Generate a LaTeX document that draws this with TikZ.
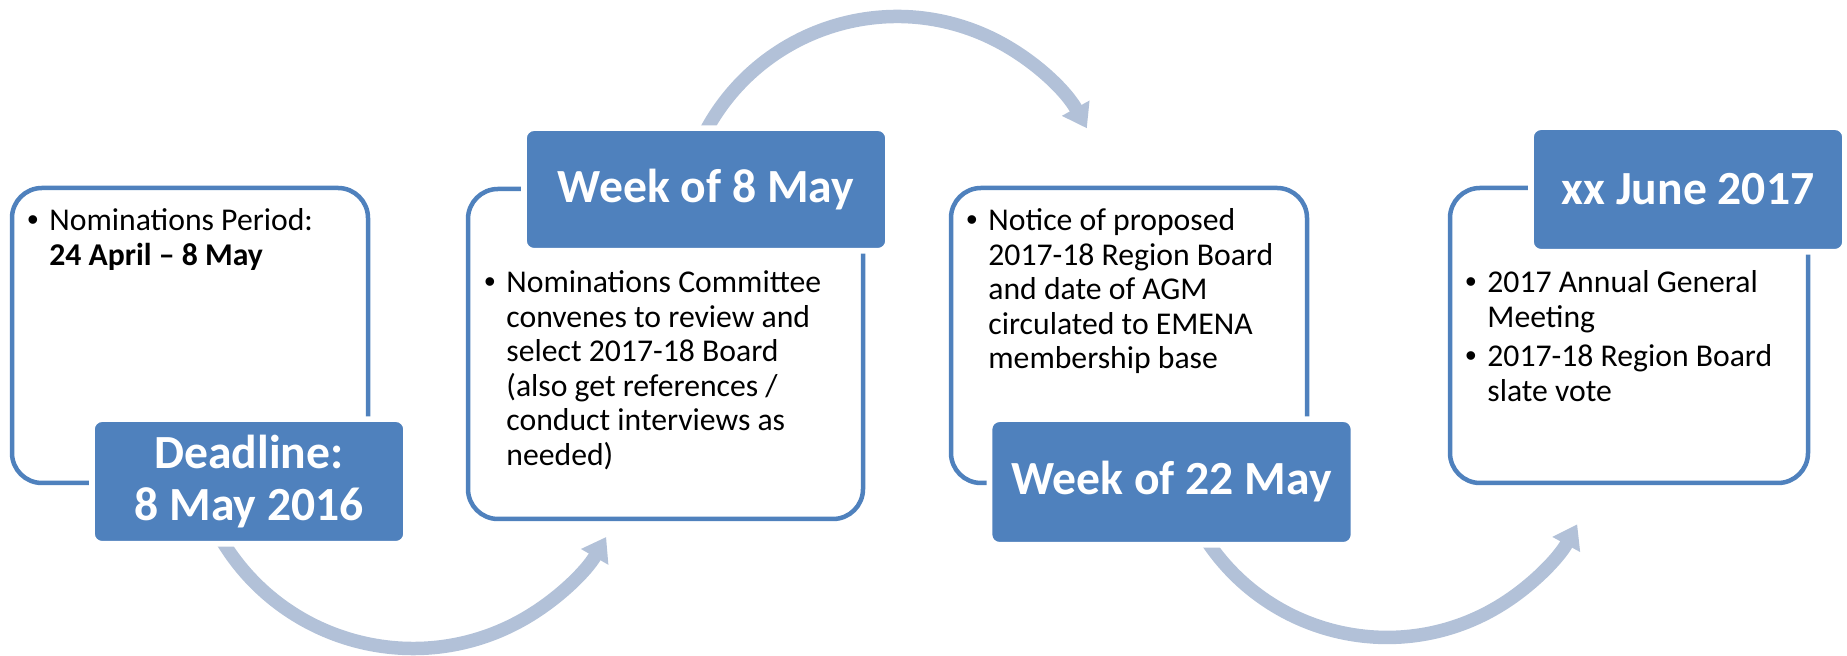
\documentclass[tikz,border=0pt]{standalone}
\usepackage{fontspec}
\setmainfont{Carlito}
\newfontfamily\bulletfont{Liberation Sans}
\usetikzlibrary{
	arrows.meta,
	positioning
}
\definecolor{accent}{RGB}{79,129,189}
\definecolor{flowgray}{RGB}{178,193,216}
\newcommand{\itm}[1]{\makebox[11pt][l]{\bulletfont\textbullet}\begin{tabular}[t]{@{}l@{}}#1\end{tabular}}

\begin{document}
\begin{tikzpicture}
[x=.5pt, y=.5pt,
 panel/.style={draw=accent, line width=2.25pt, fill=white, rounded corners=15pt, inner sep=0pt},
 datebox/.style={fill=accent, draw=white, line width=2.8pt, rounded corners=5pt, inner sep=0pt,
   text=white, align=center, font=\fontsize{23.8}{26}\selectfont\bfseries},
 body/.style={anchor=base west, inner sep=0pt, font=\fontsize{15.85}{17.25}\selectfont},
 flow/.style={draw=flowgray, line width=6.75pt, -{Triangle[length=11.5pt,width=15pt]}}]
\useasboundingbox (0,0) rectangle (1847,656);
\coordinate (s1) at (219.9,119);
\coordinate (s2) at (703.7,521);
\coordinate (s3) at (1203.5,120.3);
\draw[flow] (s1) arc[start angle=210, end angle=330, radius=223];
\draw[flow] (s2) arc[start angle=153, end angle=29, radius=217];
\draw[flow] (s3) arc[start angle=212, end angle=331.5, radius=216.4];
\node[panel, minimum width=178pt, minimum height=147.5pt] (p1) at (190,320.5) {};
\node[panel, minimum width=197.5pt, minimum height=165pt] (p2) at (665.5,302) {};
\node[panel, minimum width=178pt, minimum height=147.5pt] (p3) at (1129,320.5) {};
\node[panel, minimum width=179pt, minimum height=147.5pt] (p4) at (1629,320.5) {};
\node[datebox, minimum width=157pt, minimum height=62.3pt] (d1) at (249,174.5) {Deadline:\\8 May 2016};
\node[datebox, minimum width=182pt, minimum height=61.3pt] (d2) at (706,466.5) {Week of 8 May};
\node[datebox, minimum width=182pt, minimum height=62.8pt] (d3) at (1171.5,174) {Week of 22 May};
\node[datebox, minimum width=157pt, minimum height=62.3pt] (d4) at (1688,466.5) {xx June 2017};
\node[body] (t1) at (27,425) {\itm{Nominations Period:\\\textbf{24 April -- 8 May}}};
\node[body] (t2) at (484,363) {\itm{Nominations Committee\\convenes to review and\\select 2017-18 Board\\(also get references /\\conduct interviews as\\needed)}};
\node[body] (t3) at (966,425) {\itm{Notice of proposed\\2017-18 Region Board\\and date of AGM\\circulated to EMENA\\membership base}};
\node[body] (t4) at (1465,363) {\begin{tabular}[t]{@{}l@{}}\itm{2017 Annual General\\Meeting}\\\noalign{\vskip2.5pt}
  \itm{2017-18 Region Board\\slate vote}\end{tabular}};
\end{tikzpicture}
\end{document}
